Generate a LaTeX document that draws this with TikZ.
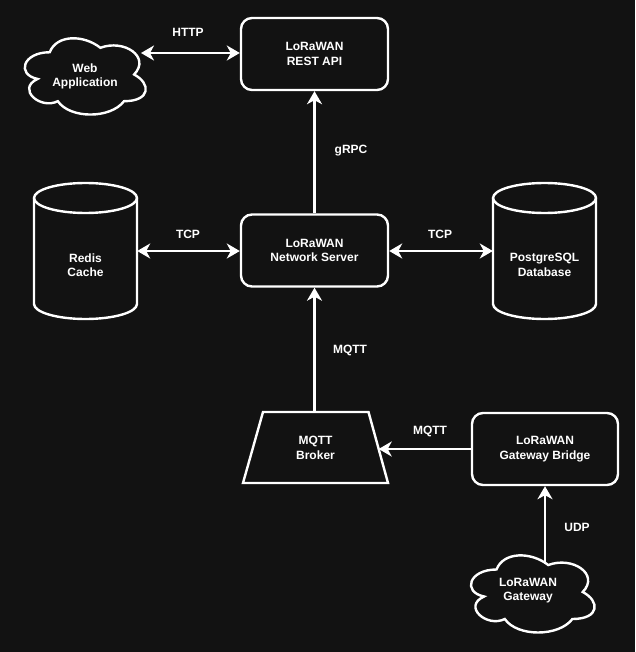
\documentclass[tikz,border=0pt]{standalone}
\usepackage{fontspec}
\setmainfont{Liberation Sans}
\usetikzlibrary{arrows.meta}
\definecolor{bg}{HTML}{121212}
\tikzset{
  ln/.style={draw=white, line width=2.4pt},
  txt/.style={text=white, font=\bfseries\fontsize{12}{14.4}\selectfont, align=center},
  box/.style={ln, fill=bg, rounded corners=11pt, minimum width=147pt, minimum height=72pt, inner sep=0pt, txt},
  hid/.style={inner sep=0pt, txt},
  lbl/.style={txt, inner sep=0pt},
  tip/.tip={Stealth[length=13pt,width=15pt,inset=4pt]},
  arr/.style={ln, -tip},
  darr/.style={ln, tip-tip},
}
\newcommand\mycloudpath[4]{%
 \path[ln, fill=bg] ({#1+0.25*#3},{#2+0.25*#4})
  .. controls ({#1+0.05*#3},{#2+0.25*#4}) and ({#1},{#2+0.5*#4}) .. ({#1+0.16*#3},{#2+0.55*#4})
  .. controls ({#1},{#2+0.66*#4}) and ({#1+0.18*#3},{#2+0.9*#4}) .. ({#1+0.31*#3},{#2+0.8*#4})
  .. controls ({#1+0.4*#3},{#2+#4}) and ({#1+0.7*#3},{#2+#4}) .. ({#1+0.8*#3},{#2+0.8*#4})
  .. controls ({#1+#3},{#2+0.8*#4}) and ({#1+#3},{#2+0.6*#4}) .. ({#1+0.875*#3},{#2+0.5*#4})
  .. controls ({#1+#3},{#2+0.3*#4}) and ({#1+0.8*#3},{#2+0.1*#4}) .. ({#1+0.625*#3},{#2+0.2*#4})
  .. controls ({#1+0.5*#3},{#2+0.05*#4}) and ({#1+0.3*#3},{#2+0.05*#4}) .. ({#1+0.25*#3},{#2+0.25*#4})
  -- cycle;}
\newcommand\mycyl[4]{% cx, top, bottom, rx
 \path[ln, fill=bg] ({#1-#4},{#2+15}) -- ({#1-#4},{#3-15})
   arc[start angle=180, end angle=0, x radius=#4, y radius=15]
   -- ({#1+#4},{#2+15})
   arc[start angle=0, end angle=-180, x radius=#4, y radius=15] -- cycle;
 \draw[ln] ({#1-#4},{#2+15}) arc[start angle=180, end angle=0, x radius=#4, y radius=15];}
\begin{document}
\begin{tikzpicture}[x=1pt,y=-1pt]
\fill[bg] (0,0) rectangle (635,652);
\useasboundingbox (0,0) rectangle (635,652);
% shapes
\mycloudpath{16}{30}{135}{89}
\mycloudpath{462}{547}{138}{90}
\mycyl{85.5}{183}{319}{51.5}
\mycyl{544.5}{183}{319}{51.5}
\path[ln, fill=bg, line join=miter] (263,412) -- (368.5,412) -- (388,483) -- (243,483) -- cycle;
% nodes
\node[box] (rest) at (314.5,54) {LoRaWAN\\REST API};
\node[box] (ns) at (314.5,250.5) {LoRaWAN\\Network Server};
\node[box, minimum width=146pt] (bridge) at (545,449) {LoRaWAN\\Gateway Bridge};
\node[hid] (web) at (85,76.5) {Web\\Application};
\node[hid] (gw) at (528,590.5) {LoRaWAN\\Gateway};
\node[hid, minimum width=103pt, minimum height=136pt] (redis) at (85.5,251) {};
\node[hid, minimum width=103pt, minimum height=136pt] (pg) at (544.5,251) {};
\node[hid] (redist) at (85.5,265) {Redis\\Cache};
\node[hid] (pgt) at (544.5,265) {PostgreSQL\\Database};
\node[hid] (broker) at (315.5,448) {MQTT\\Broker};
\coordinate (webR) at (141,53);
\coordinate (brokerT) at (314.5,412);
\coordinate (brokerR) at (378.7,449);
\coordinate (gwT) at (545,564);
% connectors
\draw[darr] (webR) -- (webR -| rest.west);
\draw[arr] (ns.north) -- (rest.south);
\draw[darr] (redis.east) -- (redis.east -| ns.west);
\draw[darr] (pg.west -| ns.east) -- (pg.west);
\draw[arr] (brokerT) -- (ns.south);
\draw[arr] (bridge.west) -- (brokerR);
\draw[arr] (gwT) -- (bridge.south);
% labels
\node[lbl] (lhttp) at (188,32) {HTTP};
\node[lbl] (lgrpc) at (351,151) {gRPC};
\node[lbl] (ltcp1) at (188,234) {TCP};
\node[lbl] (ltcp2) at (440,234) {TCP};
\node[lbl] (lmqtt1) at (350,350) {MQTT};
\node[lbl] (lmqtt2) at (430,431) {MQTT};
\node[lbl] (ludp) at (577,527) {UDP};
\end{tikzpicture}
\end{document}
